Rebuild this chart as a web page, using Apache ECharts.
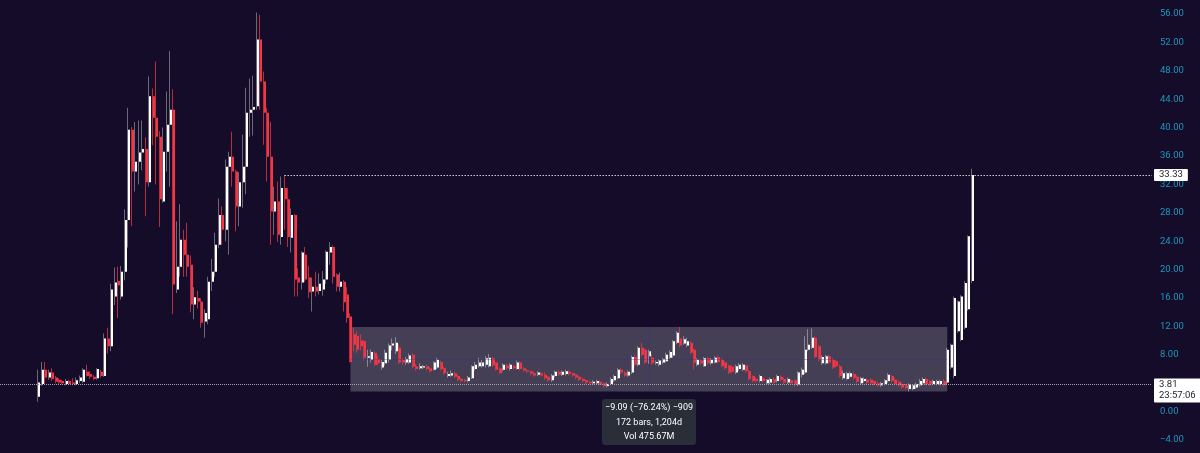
<!DOCTYPE html>
<html><head><meta charset="utf-8">
<script src="https://cdn.jsdelivr.net/npm/echarts@6/dist/echarts.min.js"></script>
<style>html,body{margin:0;padding:0;background:#140c28;}#c{width:1200px;height:453px;}</style>
</head><body><div id="c"></div><script>
// ---- data ----
const opens = [
2.1,3.9,5.9,4.8,5.5,4.8,4.5,4.3,3.9,4.3, 4.1,3.9,4.3,4.2,5.6,5.3,4.9,4.7,5.6,5.0,
10.3,9.2,16.2,18.4,16.2,19.7,27.0,39.7,33.8,35.2, 36.5,37.0,32.3,44.4,41.4,38.7,29.6,36.6,40.4,42.5,
17.2,20.4,24.2,22.1,20.7,15.1,16.0,15.5,12.7,13.0, 18.3,19.7,23.5,27.7,25.6,34.5,35.9,33.8,28.9,32.3,
34.5,42.1,42.5,43.0,52.4,46.5,42.1,35.9,28.2,29.6, 24.6,31.5,29.9,24.5,27.7,18.9,18.2,22.1,18.9,16.9,
17.6,17.0,17.2,18.6,22.4,23.2,19.3,17.6,18.3,16.5, 13.4,10.9,10.7,10.0,9.9,7.6,7.3,8.3,7.4,6.2,
6.8,7.3,9.3,8.5,9.0,7.3,6.9,6.9,8.0,6.4, 6.1,6.2,6.4,6.1,5.9,6.2,7.0,6.1,5.0,5.1,
5.4,5.0,4.6,4.5,4.3,4.7,6.0,6.4,6.4,6.6, 6.4,7.5,6.9,6.1,5.9,6.5,6.0,6.4,6.0,6.9,
6.1,5.8,5.7,5.4,5.2,5.4,5.2,4.9,4.4,5.0, 5.6,5.2,5.3,5.6,5.4,5.2,4.9,4.6,4.4,4.2,
4.0,4.0,4.2,4.0,3.6,3.9,4.4,4.7,5.9,5.5, 5.1,5.5,7.7,6.6,9.0,8.7,7.8,7.6,6.8,6.6,
6.9,7.1,7.6,7.9,9.7,10.3,9.6,9.3,9.7,8.7, 6.6,7.2,6.4,7.5,6.8,6.9,7.7,7.3,6.9,6.5,
6.3,5.5,6.0,5.9,6.5,5.7,5.0,4.6,4.3,4.7, 4.0,4.1,4.6,4.3,4.9,4.6,4.1,4.4,4.4,3.8,
5.2,5.5,8.7,9.0,10.4,9.2,6.8,6.8,7.8,7.3, 7.1,6.4,4.7,4.6,4.9,5.3,4.9,4.0,4.3,4.5,
4.5,4.3,4.0,3.7,3.9,4.3,5.0,4.5,4.2,3.9, 3.7,3.2,3.2,3.4,3.7,4.0,4.6,4.3,3.9,3.9,
3.9,4.3,4.1,6.2,5.0,11.3,10.1,11.8,14.4,18.4];
const closes = [
4.1,5.9,4.8,5.5,4.6,4.2,4.1,4.0,4.3,3.9, 3.9,4.4,4.8,5.9,5.0,4.9,4.6,6.0,5.0,10.3,
9.2,17.2,18.2,17.8,19.7,27.0,39.7,33.8,35.2,36.5, 37.0,32.3,44.4,41.4,38.7,29.9,36.6,40.4,42.5,17.9,
20.4,24.2,22.1,20.4,15.1,16.1,15.5,12.5,13.9,18.3, 19.7,23.5,27.7,25.6,34.5,35.9,33.8,28.9,32.3,34.5,
42.1,42.5,42.9,52.4,46.5,42.1,35.9,28.2,29.6,24.9, 31.5,29.9,24.6,27.7,18.6,18.2,22.4,18.6,16.8,17.6,
16.9,18.0,18.6,22.5,23.2,19.0,17.6,18.3,15.4,13.2, 7.0,9.4,8.7,9.2,7.6,7.8,8.4,6.6,6.8,7.0,
8.3,9.3,9.6,9.7,6.9,6.9,7.4,7.9,6.3,6.0, 6.4,6.4,6.0,5.7,6.9,7.3,6.0,5.4,5.3,5.4,
4.9,4.5,4.3,4.3,4.8,6.4,6.6,6.9,6.9,7.5, 7.6,6.5,5.9,5.4,6.6,6.1,6.6,6.1,6.9,6.0,
5.8,5.6,5.35,5.1,5.5,5.1,4.7,4.4,5.1,5.6, 5.2,5.6,5.7,5.3,5.1,4.8,4.5,4.3,4.1,4.0,
4.2,4.3,3.9,3.6,3.9,4.6,5.0,5.9,5.5,5.1, 5.6,7.7,6.6,9.0,8.0,6.9,8.5,6.8,7.0,7.2,
7.4,8.0,8.4,9.9,11.1,9.3,10.2,9.9,8.3,6.9, 7.3,6.8,7.5,6.8,7.3,7.6,7.0,6.4,6.1,5.5,
5.6,6.4,6.6,6.6,5.7,4.6,4.3,4.3,5.0,4.3, 4.5,4.6,4.1,5.0,4.5,4.1,4.6,4.0,3.8,5.5,
5.9,8.7,9.4,10.4,7.7,7.3,7.7,7.8,6.9,6.2, 6.4,5.0,5.4,5.4,5.4,4.7,4.2,4.7,4.6,4.1,
4.0,3.9,3.7,4.0,4.4,5.2,4.3,3.9,3.7,3.4, 3.3,3.8,3.7,3.9,4.3,4.6,3.9,3.8,4.3,4.3,
4.3,3.7,8.7,9.4,16.0,15.5,16.2,18.1,24.7,33.33];
const lows = [
1.4,3.6,3.8,4.5,4.3,4.0,3.9,3.8,3.7,3.7, 3.7,3.7,4.0,4.0,4.9,4.6,4.4,4.5,4.8,4.9,
8.2,8.5,15.0,13.2,15.8,18.5,23.1,26.1,31.0,32.0, 34.0,27.5,31.7,37.5,32.0,26.0,29.4,33.8,31.7,13.7,
16.7,19.0,19.0,19.0,14.0,13.0,14.5,11.8,10.4,12.3, 17.0,19.0,23.0,23.5,24.0,22.1,31.7,25.4,26.1,28.7,
30.6,38.7,38.9,42.5,42.5,37.6,32.4,23.5,24.9,23.9, 23.5,25.6,23.2,22.4,16.2,16.2,17.2,18.3,16.0,14.1,
16.2,16.5,16.3,18.0,20.7,18.0,16.9,16.9,14.1,12.5, 6.9,8.5,8.3,8.6,7.2,6.3,6.9,6.4,6.5,5.9,
6.5,6.9,8.6,8.1,6.7,6.6,6.6,6.7,6.1,5.8, 5.9,6.0,5.8,5.5,5.8,6.0,5.8,5.2,4.8,4.9,
4.7,4.3,4.1,4.1,4.1,4.6,5.8,6.2,6.2,6.2, 6.2,6.3,5.8,5.3,5.7,5.9,5.8,5.9,5.9,5.8,
5.6,5.4,5.1,4.9,5.0,4.9,4.5,4.2,4.2,4.8, 5.0,5.0,5.1,5.1,4.9,4.6,4.3,4.1,3.9,3.8,
3.8,3.8,3.7,3.4,3.4,3.7,4.2,4.6,5.3,4.9, 4.9,5.3,6.4,6.4,7.8,6.7,6.7,6.6,6.6,6.4,
6.7,6.9,7.4,7.6,9.5,9.1,9.4,9.1,8.1,5.9, 6.4,6.6,6.3,6.6,6.6,6.8,6.8,6.2,5.9,5.3,
5.4,5.3,5.8,5.7,5.5,4.4,4.1,4.1,4.1,4.1, 3.8,3.9,3.9,4.1,4.3,3.9,3.9,3.8,3.5,3.6,
4.8,5.3,8.5,8.8,7.5,7.1,6.6,6.6,6.7,6.0, 6.2,4.8,4.5,4.4,4.7,4.5,4.0,3.8,4.1,3.9,
3.8,3.7,3.5,3.5,3.7,4.1,4.1,3.7,3.5,3.2, 3.1,2.83,3.0,3.2,3.5,3.8,3.7,3.6,3.7,3.7,
3.7,3.5,3.9,6.0,4.7,11.1,9.9,11.6,14.2,18.1];
const highs = [
5.9,7.0,7.0,5.9,6.1,5.0,4.7,4.5,4.6,4.5, 4.7,4.8,5.1,6.1,6.6,5.7,5.2,6.1,5.9,11.0,
11.8,18.0,20.3,20.4,20.5,28.5,42.8,40.1,40.8,41.0, 41.0,38.6,47.2,45.5,49.3,39.5,40.0,45.1,50.8,45.4,
26.8,29.2,25.6,26.6,22.0,17.5,17.0,16.0,14.4,19.0, 21.5,25.2,30.0,28.9,35.5,36.6,39.4,34.1,33.7,39.0,
45.6,46.9,47.3,56.2,55.9,47.9,42.8,40.8,31.7,32.4, 33.1,33.33,31.5,28.6,27.8,20.2,22.6,23.2,20.5,18.9,
19.7,19.5,19.8,22.7,23.9,23.4,19.5,19.6,18.5,17.5, 13.8,11.8,11.3,10.9,10.1,8.7,8.7,8.5,7.9,7.3,
8.7,9.6,10.3,10.5,9.5,7.5,7.7,8.2,8.2,6.7, 6.8,6.6,6.6,6.3,7.1,7.6,7.2,6.3,5.6,5.8,
5.6,5.2,4.8,4.6,5.0,6.5,7.0,7.6,7.3,7.8, 8.1,7.7,7.0,6.2,6.8,6.7,6.8,6.6,7.2,7.1,
6.3,6.0,5.8,5.6,5.7,5.6,5.5,5.0,5.3,5.8, 5.8,5.8,5.9,5.8,5.5,5.3,5.0,4.8,4.5,4.3,
4.4,4.5,4.4,4.1,4.1,4.8,5.2,6.1,6.1,5.7, 5.8,7.9,8.0,9.2,9.7,8.9,8.7,8.1,7.2,7.4,
7.6,8.3,8.6,10.1,11.3,11.92,10.6,10.4,9.9,8.9, 7.5,7.4,7.7,7.7,7.5,7.8,7.9,7.5,7.1,6.6,
6.5,6.6,6.8,6.8,6.6,5.9,5.1,4.8,5.2,4.9, 4.6,4.8,4.8,5.2,5.1,4.8,4.8,4.6,4.5,5.7,
6.2,10.6,11.6,11.7,10.6,9.4,7.9,8.0,8.0,7.5, 7.3,6.6,5.8,5.6,5.6,5.5,5.1,4.9,4.8,4.7,
4.7,4.4,4.2,4.2,4.6,5.4,5.2,4.7,4.4,4.1, 3.9,4.0,3.9,4.1,4.6,4.8,4.8,4.5,4.5,4.5,
4.5,4.6,9.0,9.6,16.2,15.7,16.4,18.4,24.8,34.2];
const yMin = -4, yMax = 56, yStep = 4;
const lastPrice = 3.81, lastTimeLeft = '23:57:06';
const refHigh = 33.33, refHighBar = 71;
const rangeStartBar = 90, rangeEndBar = 262, rangeTop = 11.92, rangeBottom = 2.83;
const rangeInfo = ['\u22129.09 (\u221276.24%) \u2212909', '172 bars, 1,204d', 'Vol 475.67M'];

// ---- chart ----
const FONT = 'Roboto, "Liberation Sans", sans-serif';
const UP = '#ffffff', DOWN = '#f23645';
const candles = opens.map((o, i) => [i, o, closes[i], lows[i], highs[i]]);
const xMin = -11, xMax = 321;
const chart = echarts.init(document.getElementById('c'), null, {renderer: 'canvas'});

const labelBox = {
  show: true, position: 'end', distance: 2, backgroundColor: '#ffffff', color: '#1c1f2a',
  fontSize: 9.5, fontFamily: FONT, padding: [1, 5, 1, 5], borderRadius: 1, align: 'left'
};

chart.setOption({
  backgroundColor: '#140c28',
  animation: false,
  grid: {left: 0, right: 48, top: 14, bottom: 13},
  xAxis: {type: 'value', min: xMin, max: xMax, show: false},
  yAxis: {
    type: 'value', position: 'right', min: yMin, max: yMax, interval: yStep,
    splitLine: {show: false}, axisLine: {show: false}, axisTick: {show: false},
    axisLabel: {color: '#1e96be', fontSize: 9.5, fontFamily: FONT, margin: 8,
      formatter: v => (v < 0 ? '\u2212' : '') + Math.abs(v).toFixed(2)}
  },
  series: [
    {
      type: 'custom', name: 'range', z: 1, data: [], silent: true,
      renderItem: () => null,
      markArea: {silent: true, itemStyle: {color: 'rgba(255,255,255,0.21)'},
        data: [[{coord: [rangeStartBar, rangeTop]}, {coord: [rangeEndBar, rangeBottom]}]]},
      markLine: {silent: true, symbol: 'none', animation: false,
        lineStyle: {color: 'rgba(45,45,160,0.35)', width: 1, type: 'solid'},
        label: {show: false},
        data: [
          [{coord: [rangeStartBar, (rangeTop + rangeBottom) / 2]}, {coord: [rangeEndBar, (rangeTop + rangeBottom) / 2]}],
          [{coord: [(rangeStartBar + rangeEndBar) / 2, rangeTop]}, {coord: [(rangeStartBar + rangeEndBar) / 2, rangeBottom]}]
        ]}
    },
    {
      type: 'custom', name: 'price', z: 2, clip: false,
      encode: {x: 0, y: [1, 2, 3, 4]},
      data: candles,
      renderItem: (params, api) => {
        const i = api.value(0), o = api.value(1), c = api.value(2), l = api.value(3), h = api.value(4);
        const pO = api.coord([i, o]), pC = api.coord([i, c]), pL = api.coord([i, l]), pH = api.coord([i, h]);
        const cx = Math.round(pO[0]);
        const up = c >= o;
        const top = Math.min(pO[1], pC[1]), bot = Math.max(pO[1], pC[1]);
        return {type: 'group', children: [
          {type: 'rect', shape: {x: cx - 1, y: pH[1], width: 1, height: Math.max(1, pL[1] - pH[1])},
            style: {fill: up ? 'rgba(255,255,255,0.38)' : 'rgba(242,54,69,0.75)'}},
          {type: 'rect', shape: {x: cx, y: top, width: 2, height: Math.max(1, bot - top)},
            style: {fill: up ? UP : DOWN}}
        ]};
      }
    },
    {
      type: 'custom', name: 'levels', z: 3, data: [], silent: true,
      renderItem: () => null,
      markLine: {silent: true, symbol: 'none', animation: false,
        data: [
          [{coord: [refHighBar, refHigh], lineStyle: {color: '#e6e6ee', width: 1.2, type: [1.3, 1.7]},
             label: Object.assign({}, labelBox, {formatter: refHigh.toFixed(2)})},
           {coord: [xMax, refHigh]}],
          {yAxis: lastPrice, lineStyle: {color: '#a0a3ad', width: 1, type: [1, 1]},
           label: Object.assign({}, labelBox, {formatter: lastPrice.toFixed(2) + '\n' + lastTimeLeft,
             lineHeight: 11, offset: [0, 6]})}
        ]}
    }
  ]
});

const mid = chart.convertToPixel({xAxisIndex: 0, yAxisIndex: 0}, [(rangeStartBar + rangeEndBar) / 2, rangeBottom]);
const bx = Math.round(mid[0]) - 47, by = Math.round(mid[1]) + 7;
chart.setOption({
  graphic: [{
    type: 'group', left: bx, top: by, children: [
      {type: 'rect', shape: {x: 0, y: 0, width: 94, height: 46, r: 3}, style: {fill: '#2a2e39'}},
      ...rangeInfo.map((t, k) => ({type: 'text', x: 47, y: 9 + k * 14.3,
        style: {text: t, fill: '#ffffff', font: '9px ' + FONT, textAlign: 'center', textVerticalAlign: 'middle'}}))
    ]
  }]
});
</script></body></html>
